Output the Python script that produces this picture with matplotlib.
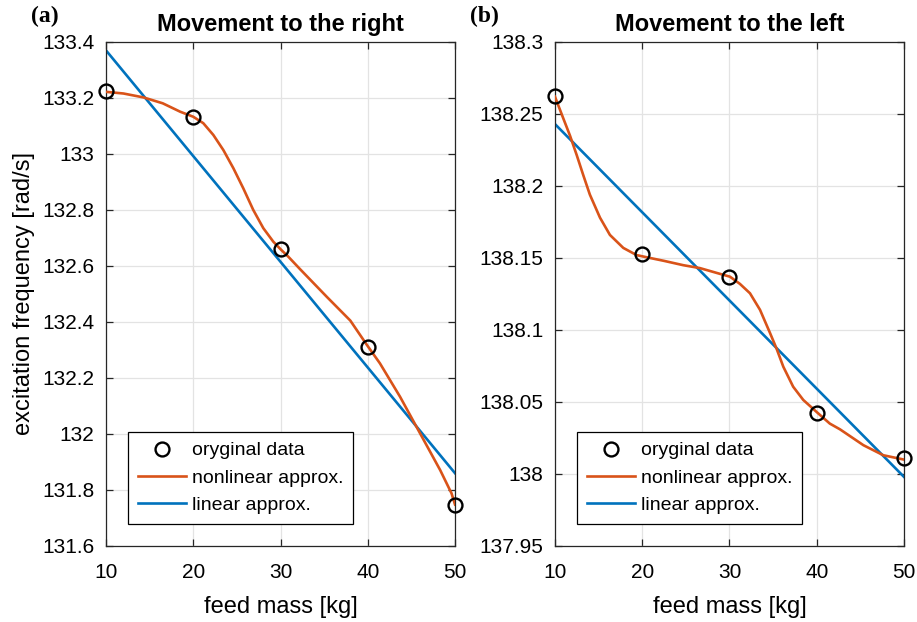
import matplotlib
matplotlib.use('Agg')
import matplotlib.pyplot as plt
from matplotlib.ticker import FuncFormatter

# measured points
mass = [10, 20, 30, 40, 50]
freq_right = [133.226, 133.131, 132.66, 132.312, 131.746]
freq_left = [138.2625, 138.1528, 138.137, 138.0426, 138.011]

# linear approx (end points)
lin_x = [10, 50]
lin_right = [133.37, 131.86]
lin_left = [138.243, 137.998]

# nonlinear approx
nl_x_right = [10, 12, 14.3, 16.5, 18.5, 20, 21.15, 22.3, 23.45, 24.6, 25.74,
              26.88, 28.03, 29.17, 30, 30.9, 32.2, 35.3, 38, 39.9, 41.4, 43.7,
              46, 48.3, 49.6, 50]
nl_y_right = [133.222, 133.216, 133.202, 133.181, 133.151, 133.133, 133.110,
              133.068, 133.014, 132.949, 132.877, 132.80, 132.735, 132.687,
              132.66, 132.633, 132.59, 132.49, 132.405, 132.318, 132.252,
              132.133, 132.002, 131.871, 131.788, 131.748]

nl_x_left = [10, 10.95, 11.72, 12.49, 13.24, 14, 15.16, 16.3, 17.83, 19.36,
             20.9, 22.5, 24.7, 26.6, 28.9, 30.06, 31.2, 32.35, 33.5, 34.64,
             35.4, 36.17, 37.3, 38.46, 40, 41.5, 42.67, 45.35, 47.64, 50]
nl_y_left = [138.262, 138.247, 138.235, 138.2215, 138.2076, 138.194, 138.178,
             138.166, 138.157, 138.152, 138.150, 138.148, 138.145, 138.143,
             138.139, 138.137, 138.132, 138.1255, 138.114, 138.098, 138.087,
             138.0745, 138.0606, 138.0514, 138.043, 138.035, 138.031, 138.020,
             138.013, 138.010]

yticks_right = [131.6, 131.8, 132.0, 132.2, 132.4, 132.6, 132.8, 133.0, 133.2, 133.4]
yticks_left = [137.95, 138.0, 138.05, 138.1, 138.15, 138.2, 138.25, 138.3]
xticks = [10, 20, 30, 40, 50]

BLUE = '#0072BD'
ORANGE = '#D95319'


def draw(ax, nl_x, nl_y, lin_y, pts, yticks, title, tag, tag_x):
    ax.plot(mass, pts, 'o', mfc='none', mec='black', mew=1.7, ms=10,
            label='oryginal data', zorder=4, clip_on=False)
    ax.plot(nl_x, nl_y, color=ORANGE, lw=1.9, label='nonlinear approx.', zorder=3)
    ax.plot(lin_x, lin_y, color=BLUE, lw=1.9, label='linear approx.', zorder=2)

    ax.set_xlim(10, 50)
    ax.set_ylim(yticks[0], yticks[-1])
    ax.set_xticks(xticks)
    ax.set_yticks(yticks)
    ax.yaxis.set_major_formatter(FuncFormatter(lambda v, p: f'{v:g}'))
    ax.grid(True, color='#e3e3e3', lw=0.9)
    ax.set_axisbelow(True)
    ax.tick_params(direction='in', length=5, width=0.9, top=True, right=True,
                   labelsize=15, color='#262626')
    ax.tick_params(axis='x', pad=12)
    ax.tick_params(axis='y', pad=8.5)
    for s in ax.spines.values():
        s.set_linewidth(0.9)
        s.set_color('#262626')
    ax.set_xlabel('feed mass [kg]', fontsize=17, labelpad=10)
    ax.set_title(title, fontsize=17, fontweight='bold', pad=8)
    ax.text(tag_x, 1.05, tag, transform=ax.transAxes,
            fontsize=17, fontweight='bold', family='Liberation Serif',
            ha='left', va='center')

    leg = ax.legend(loc='lower left', bbox_to_anchor=(0.063, 0.044), fontsize=14,
                    fancybox=False, framealpha=1, edgecolor='black',
                    handlelength=2.5, borderpad=0.5, labelspacing=0.5,
                    handletextpad=0.3, borderaxespad=0)
    leg.get_frame().set_linewidth(0.9)


def main():
    plt.rcParams['font.family'] = ['Liberation Sans', 'DejaVu Sans']
    fig = plt.figure(figsize=(9.17, 6.22), dpi=100)
    ax1 = fig.add_axes([0.1156, 0.1222, 0.3806, 0.8103])
    ax2 = fig.add_axes([0.6052, 0.1222, 0.3806, 0.8103])

    draw(ax1, nl_x_right, nl_y_right, lin_right, freq_right, yticks_right,
         'Movement to the right', '(a)', -0.215)
    draw(ax2, nl_x_left, nl_y_left, lin_left, freq_left, yticks_left,
         'Movement to the left', '(b)', -0.244)
    ax1.set_ylabel('excitation frequency [rad/s]', fontsize=17, labelpad=5)

    fig.savefig('out.png', dpi=100)


if __name__ == '__main__':
    main()
